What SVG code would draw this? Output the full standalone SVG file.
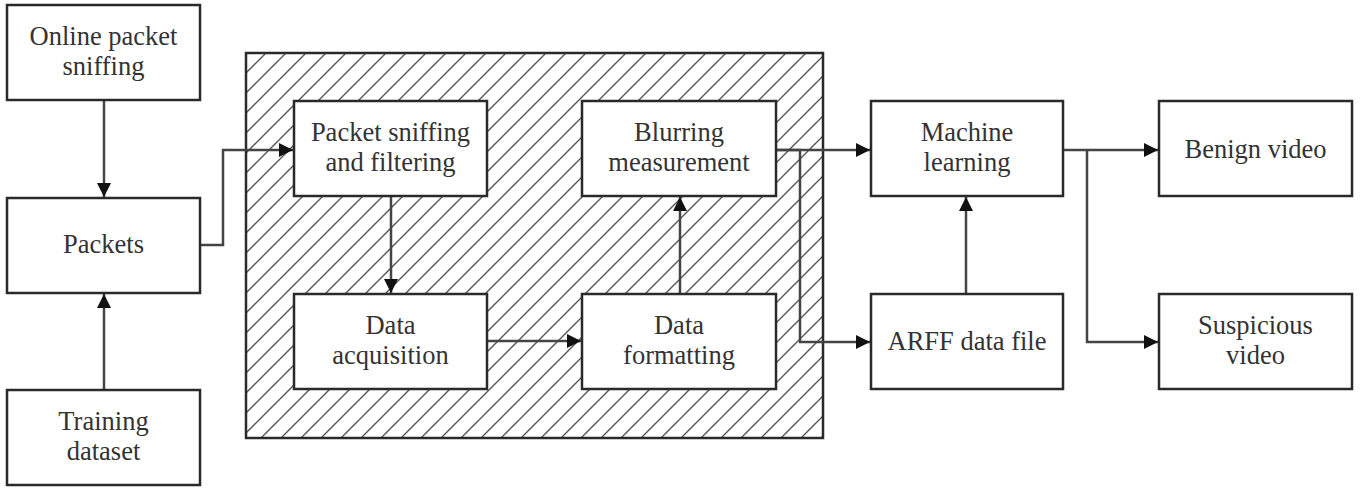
<svg xmlns="http://www.w3.org/2000/svg" width="1361" height="488" viewBox="0 0 1361 488">
<style>
.box{fill:#fff;stroke:#2a2a2a;stroke-width:2.5}
.ca{fill:none;stroke:#444;stroke-width:2.5;marker-end:url(#ah)}
</style>
<defs>
<marker id="ah" viewBox="0 0 10 10" refX="10" refY="5" markerWidth="16" markerHeight="14" markerUnits="userSpaceOnUse" orient="auto">
<path d="M0,0 L10,5 L0,10 z" fill="#111"/>
</marker>
<pattern id="hatch" patternUnits="userSpaceOnUse" x="246" y="53" width="20" height="20">
<path d="M-5,5 L5,-5 M0,20 L20,0 M15,25 L25,15" stroke="#555" stroke-width="1.4"/>
</pattern>
</defs>
<g id="container">
<rect x="246" y="53" width="577" height="385" fill="url(#hatch)" stroke="#2a2a2a" stroke-width="2.5"/>
</g>
<g id="connectors">
<path class="ca" d="M104,100 V197"/>
<path class="ca" d="M104,390 V294"/>
<path class="ca" d="M200,245 H223 V150 H293"/>
<path class="ca" d="M391,196 V293"/>
<path class="ca" d="M487,341 H581"/>
<path class="ca" d="M680,294 V197"/>
<path class="ca" d="M776,150 H870"/>
<path class="ca" d="M776,150 H800 V342 H870"/>
<path class="ca" d="M966,294 V197"/>
<path class="ca" d="M1063,150 H1158"/>
<path class="ca" d="M1087,150 V342 H1158"/>
</g>
<g font-family="Liberation Serif" font-size="26.5" fill="#333" text-anchor="middle">
<g id="online"><rect class="box" x="7" y="5" width="193" height="95"/><text x="103.5" y="45">Online packet</text><text x="103.5" y="75">sniffing</text></g>
<g id="packets"><rect class="box" x="7" y="198" width="193" height="95"/><text x="103.5" y="253">Packets</text></g>
<g id="training"><rect class="box" x="7" y="390" width="193" height="95"/><text x="103.5" y="430">Training</text><text x="103.5" y="460">dataset</text></g>
<g id="psf"><rect class="box" x="294" y="101" width="193" height="95"/><text x="390.5" y="141">Packet sniffing</text><text x="390.5" y="171">and filtering</text></g>
<g id="da"><rect class="box" x="294" y="294" width="193" height="95"/><text x="390.5" y="334">Data</text><text x="390.5" y="364">acquisition</text></g>
<g id="bm"><rect class="box" x="582" y="101" width="194" height="95"/><text x="679" y="141">Blurring</text><text x="679" y="171">measurement</text></g>
<g id="df"><rect class="box" x="582" y="294" width="194" height="95"/><text x="679" y="334">Data</text><text x="679" y="364">formatting</text></g>
<g id="ml"><rect class="box" x="871" y="101" width="192" height="95"/><text x="967" y="141">Machine</text><text x="967" y="171">learning</text></g>
<g id="arff"><rect class="box" x="871" y="294" width="192" height="95"/><text x="967" y="350">ARFF data file</text></g>
<g id="benign"><rect class="box" x="1159" y="101" width="193" height="95"/><text x="1255.5" y="158">Benign video</text></g>
<g id="suspicious"><rect class="box" x="1159" y="294" width="193" height="95"/><text x="1255.5" y="334">Suspicious</text><text x="1255.5" y="364">video</text></g>
</g>
</svg>
